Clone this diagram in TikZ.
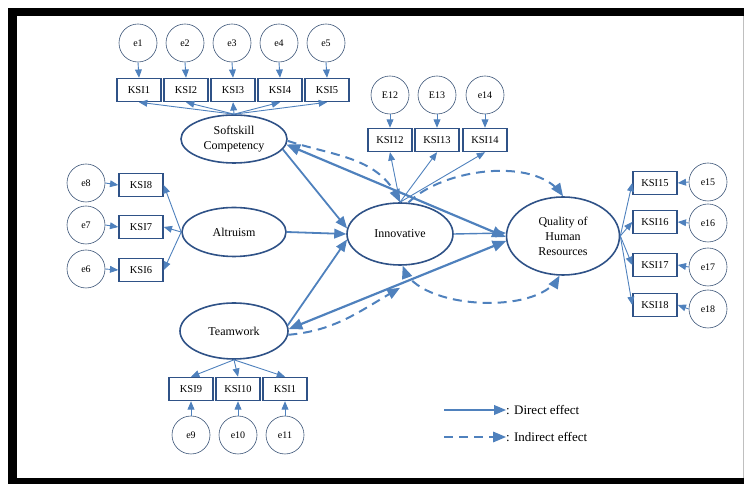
\documentclass[tikz,border=0pt]{standalone}
\usepackage{fontspec}
\setmainfont{Liberation Serif}
\usepackage{tikz}
\usetikzlibrary{arrows,shapes,positioning}

\definecolor{pathblue}{RGB}{79,129,189}
\definecolor{shapeblue}{RGB}{47,82,135}
\definecolor{errblue}{RGB}{60,85,120}

\begin{document}
\begin{tikzpicture}
        [
            x=1pt, y=1pt, >=triangle 45,
            latent/.style={ellipse, draw=shapeblue, line width=1.6pt, inner sep=0pt, align=center, font=\fontsize{12}{15}\selectfont},
            indicator/.style={rectangle, draw=shapeblue, line width=1.5pt, minimum width=44pt, minimum height=23pt, inner sep=0pt, font=\fontsize{10.5}{12}\selectfont},
            errvar/.style={circle, draw=errblue, line width=0.6pt, minimum size=38pt, inner sep=0pt, font=\fontsize{10}{12}\selectfont},
            loading/.style={->, draw=pathblue, line width=0.9pt},
            direct/.style={->, draw=pathblue, line width=1.8pt},
            indirect/.style={->, draw=pathblue, line width=2pt, dash pattern=on 9pt off 6pt},
            legtext/.style={anchor=west, inner sep=0pt, font=\fontsize{13}{15}\selectfont},
        ]
            \useasboundingbox (0, 0) rectangle (744, 484);
            \fill (8, 468) rectangle (744, 476);
            \fill (8, 0) rectangle (17, 476);
            \fill (8, 0) rectangle (744, 6);
            \draw[gray!50, line width=0.5pt] (743.5, 6) -- (743.5, 468);

            \node[errvar] (e1) at (138, 441) {e1};
            \node[errvar] (e2) at (185, 441) {e2};
            \node[errvar] (e3) at (232, 441) {e3};
            \node[errvar] (e4) at (279, 441) {e4};
            \node[errvar] (e5) at (326, 441) {e5};
            \node[indicator] (KSI1) at (139, 394) {KSI1};
            \node[indicator] (KSI2) at (186, 394) {KSI2};
            \node[indicator] (KSI3) at (233, 394) {KSI3};
            \node[indicator] (KSI4) at (280, 394) {KSI4};
            \node[indicator] (KSI5) at (327, 394) {KSI5};

            \node[errvar] (E12) at (390, 389) {E12};
            \node[errvar] (E13) at (437, 389) {E13};
            \node[errvar] (e14) at (485, 389) {e14};
            \node[indicator] (KSI12) at (390, 344) {KSI12};
            \node[indicator] (KSI13) at (437, 344) {KSI13};
            \node[indicator] (KSI14) at (485, 344) {KSI14};

            \node[errvar] (e8) at (86, 301) {e8};
            \node[errvar] (e7) at (86, 259) {e7};
            \node[errvar] (e6) at (86, 215) {e6};
            \node[indicator] (KSI8) at (141, 299) {KSI8};
            \node[indicator] (KSI7) at (141, 257) {KSI7};
            \node[indicator] (KSI6) at (141, 214) {KSI6};

            \node[indicator] (KSI9) at (191, 95) {KSI9};
            \node[indicator] (KSI10) at (238, 95) {KSI10};
            \node[indicator] (KSI11) at (285, 95) {KSI1};
            \node[errvar] (e9) at (191, 49) {e9};
            \node[errvar] (e10) at (238, 49) {e10};
            \node[errvar] (e11) at (285, 49) {e11};

            \node[indicator] (KSI15) at (655, 301) {KSI15};
            \node[indicator] (KSI16) at (655, 262) {KSI16};
            \node[indicator] (KSI17) at (655, 219) {KSI17};
            \node[indicator] (KSI18) at (655, 179) {KSI18};
            \node[errvar] (e15) at (708, 302) {e15};
            \node[errvar] (e16) at (708, 261) {e16};
            \node[errvar] (e17) at (708, 217) {e17};
            \node[errvar] (e18) at (708, 175) {e18};

            \node[latent, minimum width=106pt, minimum height=48pt] (soft) at (234, 345) {Softskill\\Competency};
            \node[latent, minimum width=104pt, minimum height=49pt] (altru) at (234, 252) {Altruism};
            \node[latent, minimum width=108pt, minimum height=56pt] (team) at (234, 153) {Teamwork};
            \node[latent, minimum width=106pt, minimum height=62pt] (innov) at (400, 250) {Innovative};
            \node[latent, minimum width=113pt, minimum height=78pt] (qual) at (563, 248) {Quality of\\Human\\Resources};

            \draw[loading] (e1.south) -- (KSI1.north);
            \draw[loading] (e2.south) -- (KSI2.north);
            \draw[loading] (e3.south) -- (KSI3.north);
            \draw[loading] (e4.south) -- (KSI4.north);
            \draw[loading] (e5.south) -- (KSI5.north);
            \draw[loading] (soft.north) -- (KSI1.south);
            \draw[loading] (soft.north) -- (KSI2.south);
            \draw[loading] (soft.north) -- (KSI3.south);
            \draw[loading] (soft.north) -- (KSI4.south);
            \draw[loading] (soft.north) -- (KSI5.south);

            \draw[loading] (E12.south) -- (KSI12.north);
            \draw[loading] (E13.south) -- (KSI13.north);
            \draw[loading] (e14.south) -- (KSI14.north);
            \draw[loading] (innov.north) -- (KSI12.south);
            \draw[loading] (innov.north) -- (KSI13.south);
            \draw[loading] (innov.north) -- (KSI14.south);

            \draw[loading] (e8.east) -- (KSI8.west);
            \draw[loading] (e7.east) -- (KSI7.west);
            \draw[loading] (e6.east) -- (KSI6.west);
            \draw[loading] (altru.west) -- (KSI8.east);
            \draw[loading] (altru.west) -- (KSI7.east);
            \draw[loading] (altru.west) -- (KSI6.east);

            \draw[loading] (team.south) -- (KSI9.north);
            \draw[loading] (team.south) -- (KSI10.north);
            \draw[loading] (team.south) -- (KSI11.north);
            \draw[loading] (e9.north) -- (KSI9.south);
            \draw[loading] (e10.north) -- (KSI10.south);
            \draw[loading] (e11.north) -- (KSI11.south);

            \draw[loading] (qual.east) -- (KSI15.west);
            \draw[loading] (qual.east) -- (KSI16.west);
            \draw[loading] (qual.east) -- (KSI17.west);
            \draw[loading] (qual.east) -- (KSI18.west);
            \draw[loading] (e15.west) -- (KSI15.east);
            \draw[loading] (e16.west) -- (KSI16.east);
            \draw[loading] (e17.west) -- (KSI17.east);
            \draw[loading] (e18.west) -- (KSI18.east);

            \draw[direct] (soft.-12) -- (innov.174);
            \draw[direct] (altru.east) -- (innov.west);
            \draw[direct] (team.6) -- (innov.186);
            \draw[direct, line width=1.4pt] (innov.east) -- (qual.177);
            \draw[direct, <->, line width=2.2pt] (soft.-6) -- (qual.181);
            \draw[direct, <->, line width=2.2pt] (team.2) -- (qual.185);

            \draw[indirect] (soft.-2) to [out=-18, in=115] (innov.north);
            \draw[indirect] (innov.75) to [out=45, in=125, looseness=0.8] (qual.north);
            \draw[indirect, <->] (innov.-85) to [out=-70, in=-120, looseness=0.75] (qual.-95);
            \coordinate (teamend) at ([yshift=-22pt]innov.south);
            \draw[indirect] (team.-4) to [out=5, in=-150] (teamend);

            \coordinate (dirfrom) at (444, 74);
            \coordinate (indfrom) at (444, 47);
            \node[legtext] (dirlbl) at (506, 74) {: Direct effect};
            \node[legtext] (indlbl) at (506, 47) {: Indirect effect};
            \draw[direct] (dirfrom) -- (dirlbl.west);
            \draw[indirect] (indfrom) -- (indlbl.west);
        \end{tikzpicture}
\end{document}
